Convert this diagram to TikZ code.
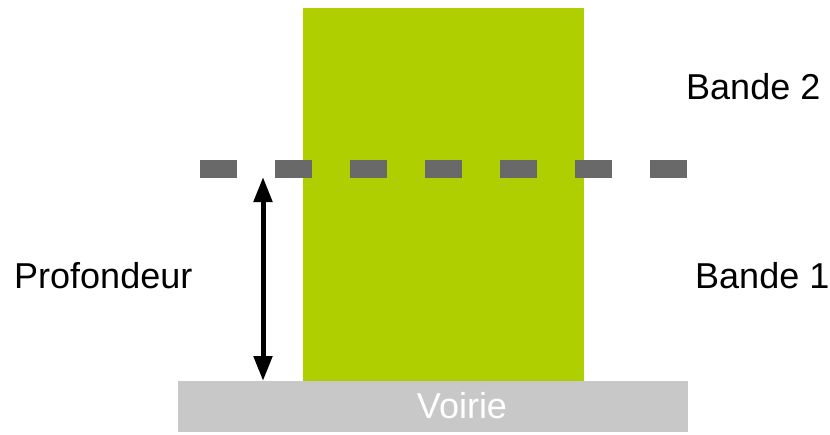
\documentclass[tikz,border=0pt]{standalone}
\usepackage{fontspec}
\setmainfont{Liberation Sans}
\usetikzlibrary{arrows.meta}
\definecolor{plotgreen}{HTML}{AFCF00}
\definecolor{roadgray}{HTML}{C8C8C8}
\definecolor{dashgray}{HTML}{696969}
\tikzset{
  lbl/.style={font=\fontsize{36}{40}\selectfont, inner sep=0pt},
  dashbox/.style={fill=dashgray, draw=none},
  dimarrow/.style={line width=5pt, {Triangle[length=25pt,width=18pt]}-{Triangle[length=25pt,width=18pt]}},
}
\begin{document}
\begin{tikzpicture}[x=1pt,y=-1pt]
\useasboundingbox (0,0) rectangle (830,434);
\fill[white] (0,0) rectangle (830,434);
% green plot
\fill[plotgreen] (303,8) rectangle (584,382);
% road
\node[fill=roadgray, minimum width=510pt, minimum height=51pt, inner sep=0pt, anchor=north west] (voirie) at (178,381) {};
\node[lbl, text=white] (vtxt) at (462,406) {Voirie};
% dashes
\foreach \x in {200,275,350,425,500,575,650}{
  \fill[dashbox] (\x,160) rectangle ++(37,18);
}
% arrow
\coordinate (atop) at (263,177);
\coordinate (abot) at (263,381);
\draw[dimarrow] (atop) -- (abot);
% labels
\node[lbl, anchor=west] (b2) at (686,87) {Bande 2};
\node[lbl, anchor=west] (b1) at (695,276) {Bande 1};
\node[lbl, anchor=west] (prof) at (14,276) {Profondeur};
\end{tikzpicture}
\end{document}
